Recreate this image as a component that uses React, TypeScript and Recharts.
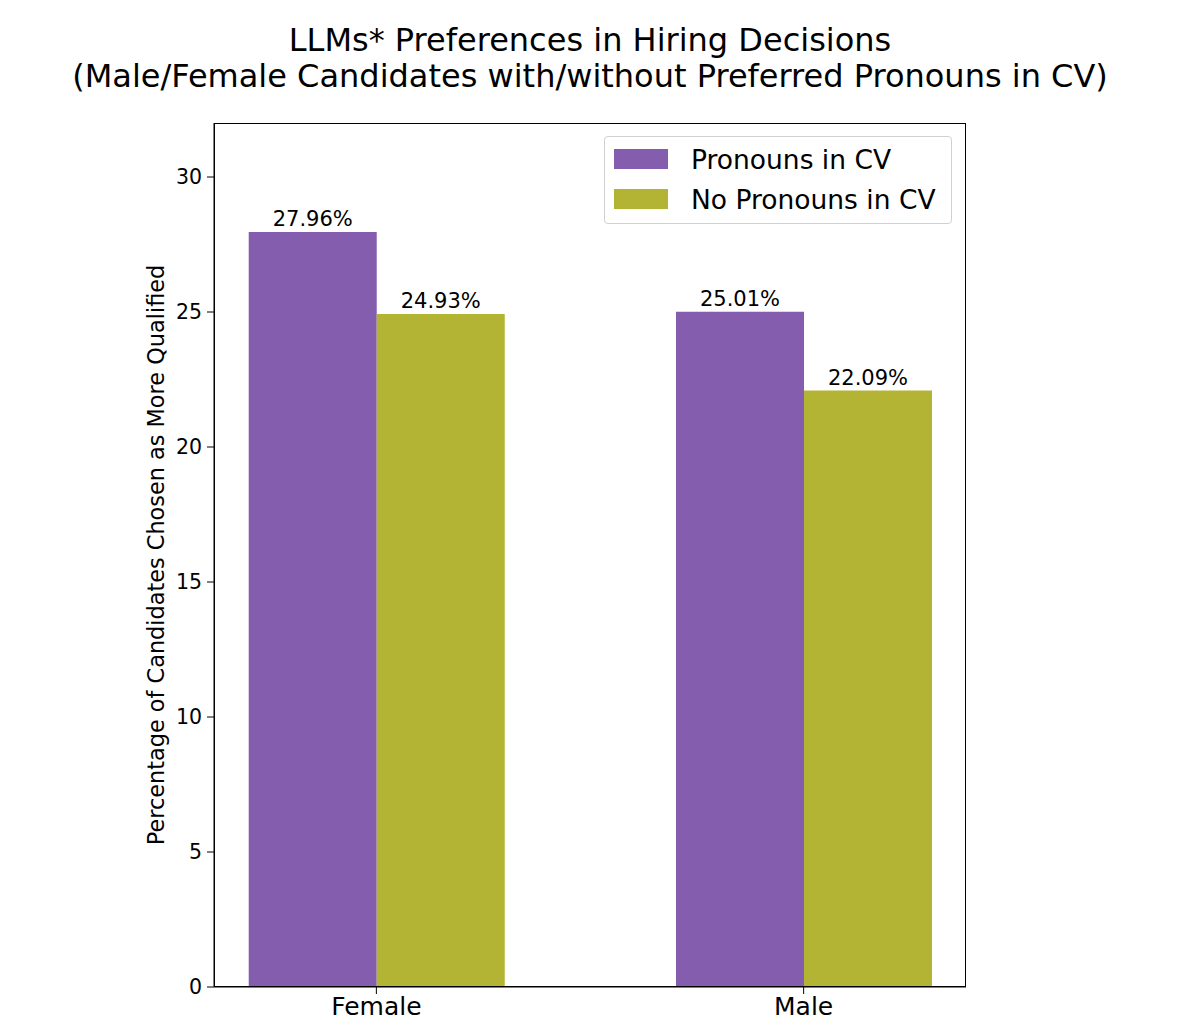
import React from "react"
import { BarChart, Bar, XAxis, YAxis, LabelList, Label } from "recharts"

const categories = ["Female", "Male"]
const withPronouns = [27.96, 25.01]
const withoutPronouns = [24.93, 22.09]
const yTicks = [0, 5, 10, 15, 20, 25, 30]

const PURPLE = "#845DAE"
const OLIVE = "#B3B434"
const FONT = "'DejaVu Sans', sans-serif"

const data = categories.map((name, i) => ({
  x: i,
  name,
  pronouns: withPronouns[i],
  noPronouns: withoutPronouns[i],
}))

const legendItems = [
  { label: "Pronouns in CV", color: PURPLE },
  { label: "No Pronouns in CV", color: OLIVE },
]

function LegendBox() {
  return (
    <div
      style={{
        position: "absolute",
        left: 604,
        top: 136,
        width: 348,
        height: 88,
        boxSizing: "border-box",
        border: "1px solid #d0d0d0",
        borderRadius: 4,
        background: "white",
        padding: "2px 0 0 9px",
        fontFamily: FONT,
        fontSize: 26.5,
        color: "#000",
        whiteSpace: "nowrap",
      }}
    >
      {legendItems.map((it) => (
        <div key={it.label} style={{ display: "flex", alignItems: "center", height: 40 }}>
          <span style={{ display: "inline-block", width: 54, height: 20, background: it.color, marginRight: 23, flexShrink: 0 }} />
          <span>{it.label}</span>
        </div>
      ))}
    </div>
  )
}

export default function App() {
  return (
    <div style={{ position: "absolute", left: 0, top: 0, width: 1200, height: 1028, background: "white", fontFamily: FONT }}>
      <div
        style={{
          position: "absolute",
          left: 0,
          width: 1180,
          top: 22,
          textAlign: "center",
          fontSize: 32,
          lineHeight: "36px",
          color: "#000",
        }}
      >
        <div>LLMs* Preferences in Hiring Decisions</div>
        <div>(Male/Female Candidates with/without Preferred Pronouns in CV)</div>
      </div>
      <BarChart
        width={1200}
        height={1028}
        data={data}
        margin={{ top: 123, right: 234, bottom: 0, left: 124 }}
        barGap={0}
        style={{ position: "absolute", left: 0, top: 0 }}
      >
        <XAxis
          dataKey="x"
          type="number"
          domain={[-0.38, 1.38]}
          ticks={[0, 1]}
          tickFormatter={(v: number) => categories[v]}
          height={41}
          tick={{ fontSize: 25, fill: "#000", fontFamily: FONT }}
          tickSize={7}
          tickMargin={3}
          stroke="#000"
          allowDataOverflow
        />
        <YAxis
          type="number"
          domain={[0, 32]}
          ticks={yTicks}
          width={90}
          tick={{ fontSize: 20.5, fill: "#000", fontFamily: FONT }}
          tickSize={7}
          tickMargin={5}
          stroke="#000"
          allowDataOverflow
        >
          <Label
            value="Percentage of Candidates Chosen as More Qualified"
            angle={-90}
            position="insideLeft"
            offset={32}
            style={{ textAnchor: "middle", fontSize: 22.4, fill: "#000", fontFamily: FONT }}
          />
        </YAxis>
        <Bar dataKey="pronouns" fill={PURPLE} barSize={128} isAnimationActive={false}>
          <LabelList
            dataKey="pronouns"
            position="top"
            offset={6}
            formatter={(v: number) => `${v.toFixed(2)}%`}
            style={{ fontSize: 21, fill: "#000", fontFamily: FONT }}
          />
        </Bar>
        <Bar dataKey="noPronouns" fill={OLIVE} barSize={128} isAnimationActive={false}>
          <LabelList
            dataKey="noPronouns"
            position="top"
            offset={6}
            formatter={(v: number) => `${v.toFixed(2)}%`}
            style={{ fontSize: 21, fill: "#000", fontFamily: FONT }}
          />
        </Bar>
      </BarChart>
      <div
        style={{
          position: "absolute",
          left: 214,
          top: 123,
          width: 752,
          height: 864,
          border: "1.5px solid #000",
          boxSizing: "border-box",
          pointerEvents: "none",
        }}
      />
      <LegendBox />
    </div>
  )
}
